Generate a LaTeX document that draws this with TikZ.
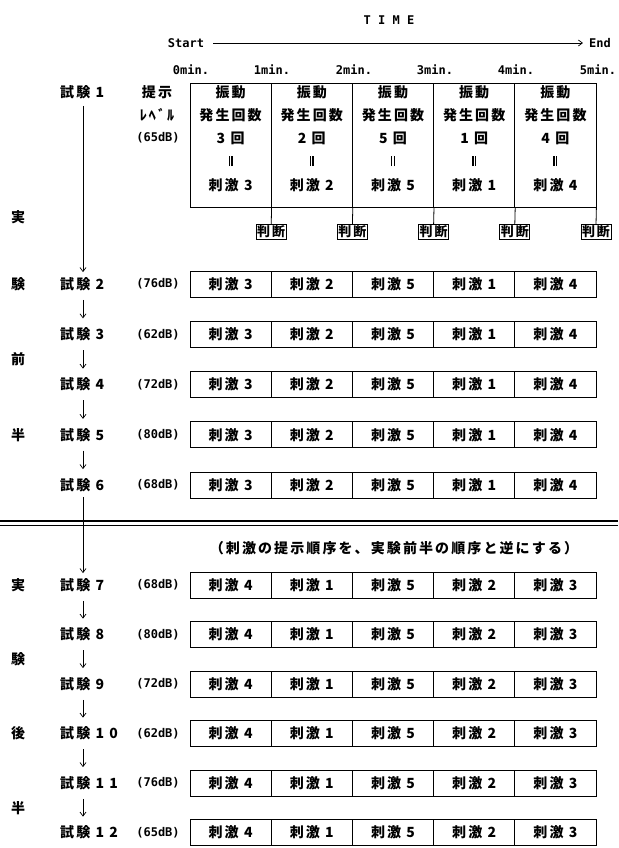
\documentclass[tikz,border=0pt]{standalone}
\usepackage{fontspec}
\newfontfamily\jp{Noto Sans CJK JP}[LetterSpace=15]
\newfontfamily\mono{DejaVu Sans Mono}
\usetikzlibrary{arrows.meta,calc}
\newcommand{\eqbar}{\rule{1.4pt}{10pt}\hspace{1.3pt}\rule{1.4pt}{10pt}}
\tikzset{
  jpt/.style={font=\jp\bfseries\fontsize{14}{14}\selectfont, inner sep=0pt},
  lat/.style={font=\mono\bfseries\fontsize{12}{12}\selectfont, inner sep=0pt},
  cell/.style={draw, line width=0.8pt, minimum width=81.2pt, minimum height=26pt, inner sep=0pt, font=\jp\bfseries\fontsize{14}{14}\selectfont},
  bigcell/.style={draw, line width=0.8pt, minimum width=81.2pt, minimum height=124pt, inner sep=0pt},
  judge/.style={draw, line width=0.8pt, inner sep=1pt, font=\jp\bfseries\fontsize{13}{13}\selectfont},
  flow/.style={line width=0.7pt, -{Straight Barb[length=4pt,width=6pt]}},
  link/.style={line width=0.8pt},
}
\begin{document}
\begin{tikzpicture}[x=1pt,y=-1pt]
\useasboundingbox (0,0) rectangle (618,848);
\coordinate (ax) at (83,0);

% time axis
\node[lat] (time) at (389,20) {T I M E};
\node[lat] (start) at (186,43) {Start};
\node[lat] (end) at (600,43) {End};
\draw[flow, shorten <=9pt, shorten >=6pt] (start) -- (end);
\foreach \x/\t in {191/0,272/1,354/2,435/3,516/4,598/5}
  \node[lat] (m\t) at (\x,70) {\t min.};

% trial 1
\node[jpt, anchor=west] (t1) at (60,92) {試験 1};
\node[jpt] (p1) at (157,92) {提示};
\node[jpt] (p2) at (157,115) {ﾚﾍﾞﾙ};
\node[lat] (d1) at (158,138) {(65dB)};
\foreach \i/\n in {1/3,2/2,3/5,4/1,5/4} {
  \node[bigcell] (c\i) at (190+81.2*\i-40.6,145) {};
  \node[jpt] (v\i) at (190+81.2*\i-40.6,92) {振動};
  \node[jpt] (h\i) at (190+81.2*\i-40.6,115) {発生回数};
  \node[jpt] (k\i) at (190+81.2*\i-40.6,138) {\n\ 回};
  \node[jpt] (e\i) at (190+81.2*\i-40.6,161) {\eqbar};
  \node[jpt] (s\i) at (190+81.2*\i-40.6,185) {刺激 \n};
  \node[judge] (j\i) at (190+81.2*\i,232) {判断};
  \draw[link] (c\i.south east) -- (j\i.north);
}

% first half
\foreach \r/\y/\db in {2/284/76,3/334.25/62,4/384.5/72,5/434.75/80,6/485/68} {
  \node[jpt, anchor=west] (t\r) at (60,\y) {試験 \r};
  \node[lat] (d\r) at (158,\y) {(\db dB)};
  \foreach \i/\n in {1/3,2/2,3/5,4/1,5/4}
    \node[cell] (r\r-\i) at (190+81.2*\i-40.6,\y) {刺激 \n};
}
% second half
\foreach \r/\lab/\y/\db in {7/7/585/68,8/8/634.5/80,9/9/684/72,10/{1 0}/733.5/62,11/{1 1}/783/76,12/{1 2}/832.5/65} {
  \node[jpt, anchor=west] (t\r) at (60,\y) {試験 \lab};
  \node[lat] (d\r) at (158,\y) {(\db dB)};
  \foreach \i/\n in {1/4,2/1,3/5,4/2,5/3}
    \node[cell] (r\r-\i) at (190+81.2*\i-40.6,\y) {刺激 \n};
}

% flow arrows
\draw[flow, shorten <=7pt, shorten >=5pt] (t1.south -| ax) -- (t2.north -| ax);
\foreach \a/\b in {2/3,3/4,4/5,5/6,7/8,8/9,9/10,10/11,11/12}
  \draw[flow, shorten <=9pt, shorten >=9pt] (t\a.south -| ax) -- (t\b.north -| ax);
\draw[flow, shorten <=5pt, shorten >=5pt] (t6.south -| ax) -- (t7.north -| ax);

% separator
\draw[line width=1.2pt] (0,521) -- (618,521);
\draw[line width=0.8pt] (0,525) -- (618,525);
\node[jpt] (note) at (394,548) {（刺激の提示順序を、実験前半の順序と逆にする）};

% side labels
\foreach \t/\y/\nm in {実/217/a1,験/284/a2,前/359/a3,半/435/a4,実/585/b1,験/659/b2,後/733.5/b3,半/808/b4}
  \node[jpt] (\nm) at (18,\y) {\t};
\end{tikzpicture}
\end{document}
